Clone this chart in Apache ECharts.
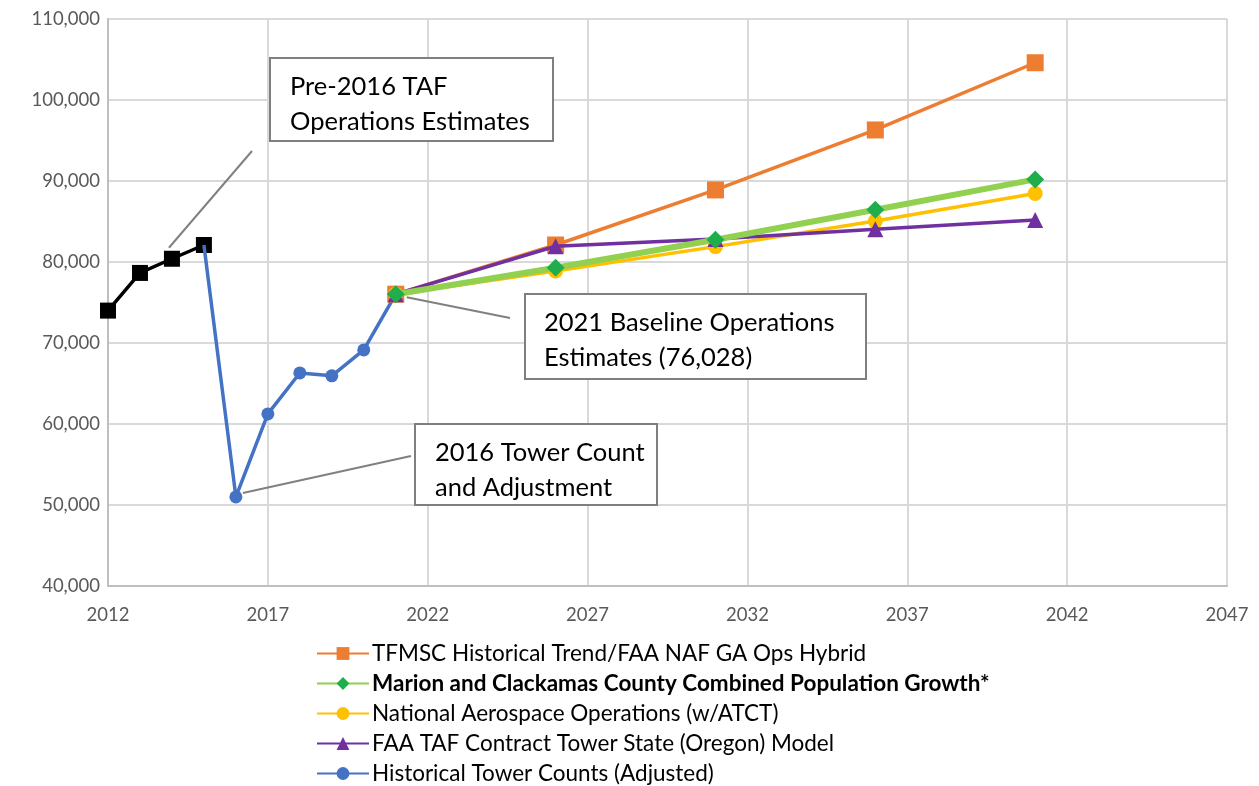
<!DOCTYPE html>
<html><head><meta charset="utf-8">
<script src="https://cdn.jsdelivr.net/npm/echarts@6/dist/echarts.min.js"></script>
<style>html,body{margin:0;padding:0;background:#fff}#c{width:1259px;height:786px}</style>
</head><body><div id="c"></div>
<script>
// ---- data ----
const preTafYears = [2012, 2013, 2014, 2015];
const preTafOps = [74000, 78650, 80400, 82100];
const histYears = [2015, 2016, 2017, 2018, 2019, 2020, 2021];
const histOps = [82100, 51000, 61250, 66300, 65950, 69150, 76028];
const fcYears = [2021, 2026, 2031, 2036, 2041];
const tfmscOps = [76028, 82100, 88900, 96300, 104600];
const popOps = [76028, 79300, 82750, 86450, 90200];
const nasOps = [76028, 78900, 81900, 85050, 88450];
const tafOps = [76028, 81950, 82850, 84050, 85200];
const seriesNames = [
  'TFMSC Historical Trend/FAA NAF GA Ops Hybrid',
  'Marion and Clackamas County Combined Population Growth*',
  'National Aerospace Operations (w/ATCT)',
  'FAA TAF Contract Tower State (Oregon) Model',
  'Historical Tower Counts (Adjusted)'
];
const notes = [
  ['Pre-2016 TAF', 'Operations Estimates'],
  ['2021 Baseline Operations', 'Estimates (76,028)'],
  ['2016 Tower Count', 'and Adjustment']
];

const FONT = 'Lato, "Open Sans", sans-serif';
const zip = (xs, ys) => xs.map((x, i) => [x, ys[i]]);

const chart = echarts.init(document.getElementById('c'));
function lineSeries(name, xs, ys, color, width, symbol, size, symColor, z) {
  return {
    name, type: 'line', data: zip(xs, ys), z,
    symbol, symbolSize: size, showSymbol: true,
    lineStyle: { color, width },
    itemStyle: { color: symColor || color, opacity: 1 },
    emphasis: { disabled: true },
    animation: false
  };
}
const blueData = zip(histYears, histOps);
blueData[0] = { value: blueData[0], symbol: 'none' };

const option = {
  animation: false,
  grid: { left: 108, right: 32, top: 19, bottom: 200 },
  xAxis: {
    type: 'value', min: 2012, max: 2047, interval: 5,
    axisLine: { show: true, lineStyle: { color: '#bfbfbf', width: 2 } },
    axisTick: { show: false },
    splitLine: { show: true, lineStyle: { color: '#d9d9d9', width: 2 } },
    axisLabel: { color: '#595959', fontSize: 18.5, fontFamily: FONT, margin: 20, formatter: v => String(v) }
  },
  yAxis: {
    type: 'value', min: 40000, max: 110000, interval: 10000,
    axisLine: { show: true, lineStyle: { color: '#bfbfbf', width: 2 } },
    axisTick: { show: false },
    splitLine: { show: true, lineStyle: { color: '#d9d9d9', width: 2 } },
    axisLabel: { color: '#595959', fontSize: 18.5, fontFamily: FONT, margin: 8,
      formatter: v => v.toLocaleString('en-US') }
  },
  legend: {
    orient: 'vertical', left: 316, top: 642, height: 160, padding: 0,
    itemWidth: 52, itemHeight: 16, itemGap: 7,
    textStyle: { fontSize: 22.5, color: '#000', fontFamily: FONT, padding: [0, 0, 0, -2] },
    data: [
      { name: seriesNames[0] },
      { name: seriesNames[1], textStyle: { fontWeight: 'bold' } },
      { name: seriesNames[2] },
      { name: seriesNames[3] },
      { name: seriesNames[4] }
    ]
  },
  series: [
    lineSeries('Pre-2016 TAF', preTafYears, preTafOps, '#000000', 3.5, 'rect', 16, '#000000', 2),
    Object.assign(lineSeries(seriesNames[4], histYears, histOps, '#4472C4', 3.5, 'circle', 13, '#4472C4', 3), { data: blueData }),
    lineSeries(seriesNames[0], fcYears, tfmscOps, '#ED7D31', 3.5, 'rect', 17, '#ED7D31', 4),
    lineSeries(seriesNames[2], fcYears, nasOps, '#FFC000', 3.5, 'circle', 15, '#FFC000', 5),
    lineSeries(seriesNames[3], fcYears, tafOps, '#7030A0', 3.5, 'triangle', 16, '#7030A0', 6),
    lineSeries(seriesNames[1], fcYears, popOps, '#92D050', 6, 'diamond', 18, '#1FAE4B', 7)
  ]
};
chart.setOption(option);

// annotations: boxes (layout) + leader lines anchored to data points
function box(x, y, w, h, lines, tx) {
  return [
    { type: 'rect', shape: { x, y, width: w, height: h }, style: { fill: '#fff', stroke: '#7f7f7f', lineWidth: 2 }, z: 20 },
    { type: 'text', x: tx, y: y + 11, style: { text: lines.join('\n'), font: '25.5px ' + FONT, fill: '#000', lineHeight: 35 }, z: 21 }
  ];
}
const p1 = chart.convertToPixel({ gridIndex: 0 }, [preTafYears[2], preTafOps[2]]);
const p2 = chart.convertToPixel({ gridIndex: 0 }, [histYears[6], histOps[6]]);
const p3 = chart.convertToPixel({ gridIndex: 0 }, [histYears[1], histOps[1]]);
const leader = (x1, y1, x2, y2) => ({ type: 'line', shape: { x1, y1, x2, y2 }, style: { stroke: '#808080', lineWidth: 2 }, z: 19 });
chart.setOption({
  graphic: [
    leader(252, 151, p1[0] - 3, p1[1] - 11),
    leader(510, 318, p2[0] + 11, p2[1] + 3),
    leader(411, 456, p3[0] + 7, p3[1] - 4),
    ...box(270, 58, 283, 83, notes[0], 290),
    ...box(525, 294, 341, 85, notes[1], 544),
    ...box(415, 424, 242, 81, notes[2], 435)
  ]
});
</script></body></html>
